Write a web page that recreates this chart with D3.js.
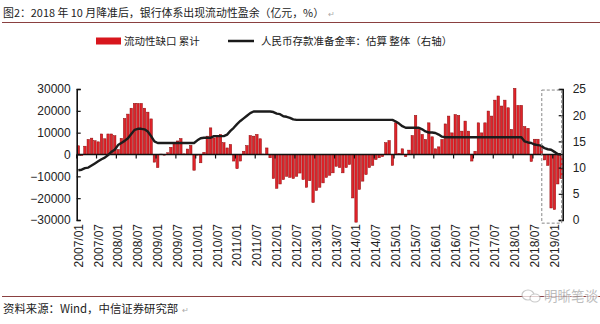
<!DOCTYPE html>
<html>
<head>
<meta charset="utf-8">
<script src="https://cdn.jsdelivr.net/npm/d3@7"></script>
<style>
  html, body { margin: 0; padding: 0; background: #fff; }
  svg { display: block; }
  text { font-family: "Liberation Sans", Arial, "Noto Sans CJK SC", sans-serif; }
  .cjk { font-family: "Noto Sans CJK SC", "Liberation Sans", sans-serif; }
</style>
</head>
<body>
<svg id="chart" width="600" height="324"></svg>
<script>
// Monthly liquidity gap (cumulative, 100m yuan), 2007/01 – 2019/03
const gapValues = [
  4000, -500, 3800, 6900, 7500, 6300, 5800, 9400, 7200, 9400, 9400, 8600,          // 2007
  2300, 7400, 16500, 18500, 21200, 23400, 23400, 23400, 21200, 19400, 16300, -3500, // 2008
  -6000, 200, -300, 800, 3300, 5000, 6200, 7300, 300, 2500, 4200, -7200,           // 2009
  -300, -3800, 1000, 8400, 12200, 7600, 8700, 9200, 5400, 3000, 4600, -3000,       // 2010
  -6500, -3000, 1500, 4100, 8700, 8400, 9200, 7200, 200, 3000, -1500, -11000,      // 2011
  -15500, -13500, -11500, -10000, -10500, -11000, -10000, -8500, -11500, -15000, -12000, -22000, // 2012
  -16500, -15000, -13000, -10500, -9500, -8400, -5400, -6000, -8400, -6000, -4600, -19900,      // 2013
  -31000, -16000, -12200, -9200, -6000, -5000, -2300, -1500, -1000, 5400, 6400, -5000,          // 2014
  14500, 500, 2600, -1000, 2000, 8700, 17900, 12200, 9200, 6900, 14500, 8100,      // 2015
  2600, 3500, 6900, 14000, 17600, 9900, 18300, 17900, 10700, 15300, 10700, -3000,  // 2016
  1500, 14500, 9900, 14500, 19900, 17600, 24900, 26800, 22200, 24900, 21400, 11500, // 2017
  30300, 22500, 22500, 12800, 12000, -3200, 7000, 7000, 4000, -2500, -5000, -24500, // 2018
  -25200, -13500, -11000                                                           // 2019
];

// RMB deposit reserve requirement ratio, estimated overall (%), right axis
const rrrValues = [
  9.5, 9.6, 9.9, 10.0, 10.4, 10.8, 11.2, 11.6, 11.9, 12.4, 13.0, 13.4,
  14.3, 14.7, 15.1, 15.6, 16.4, 17.2, 17.4, 17.4, 17.3, 16.9, 16.0, 15.0,
  14.7, 14.7, 14.7, 14.7, 14.7, 14.7, 14.7, 14.7, 14.7, 14.7, 14.7, 14.7,
  15.2, 15.6, 15.7, 15.7, 15.7, 16.0, 16.0, 16.0, 16.0, 16.3, 17.0, 17.6,
  18.3, 18.9, 19.4, 19.9, 20.4, 20.7, 20.7, 20.7, 20.7, 20.7, 20.7, 20.6,
  20.3, 20.2, 19.8, 19.7, 19.5, 19.2, 19.1, 19.1, 19.1, 19.1, 19.1, 19.1,
  19.1, 19.1, 19.1, 19.1, 19.1, 19.1, 19.1, 19.1, 19.1, 19.1, 19.1, 19.1,
  19.1, 19.1, 19.1, 19.1, 19.1, 19.1, 19.1, 19.1, 19.1, 19.1, 19.1, 19.1,
  18.8, 18.4, 17.9, 17.6, 17.6, 17.6, 17.6, 17.6, 17.3, 16.9, 16.7, 16.7,
  16.6, 16.3, 15.9, 15.8, 15.8, 15.8, 15.8, 15.8, 15.8, 15.8, 15.8, 15.8,
  15.8, 15.8, 15.8, 15.8, 15.8, 15.8, 15.8, 15.8, 15.8, 15.8, 15.8, 15.8,
  15.8, 15.8, 15.8, 15.0, 14.8, 14.7, 14.4, 14.3, 14.2, 13.7, 13.5, 13.4,
  13.0, 12.6, 12.5
];

// Month categories
const startYear = 2007;
const months = gapValues.map((_, i) => {
  const y = startYear + Math.floor(i / 12);
  const m = (i % 12) + 1;
  return y + "/" + String(m).padStart(2, "0");
});

const leftTicks = [30000, 20000, 10000, 0, -10000, -20000, -30000];
const rightTicks = [0, 5, 10, 15, 20, 25];
const xTickLabels = months.filter((_, i) => i % 6 === 0);

const titleText = "图2：2018 年 10 月降准后，银行体系出现流动性盈余（亿元，%）";
const sourceText = "资料来源：Wind，中信证券研究部";
const legendBar = "流动性缺口 累计";
const legendLine = "人民币存款准备金率：估算 整体（右轴）";

const svg = d3.select("#chart");

const plot = { left: 76.7, right: 562.7, top: 89, bottom: 220 };

const x = d3.scaleBand().domain(months).range([plot.left, plot.right]).paddingInner(0.26).paddingOuter(0.13);
const xStep = x.step();
const yL = d3.scaleLinear().domain([-30000, 30000]).range([plot.bottom, plot.top]);
const yR = d3.scaleLinear().domain([0, 25]).range([plot.bottom, plot.top]);

// Title and rules
const title = svg.append("text").attr("class", "cjk").attr("x", 3).attr("y", 16.5)
  .attr("font-size", 10.9).attr("fill", "#222").text(titleText);
const titleEnd = 3 + title.node().getComputedTextLength();
svg.append("text").attr("x", titleEnd + 4).attr("y", 16.5).attr("font-size", 8).attr("fill", "#aaa").text("↵");
svg.append("line").attr("x1", 2).attr("x2", 600).attr("y1", 22.5).attr("y2", 22.5)
  .attr("stroke", "#8a4040").attr("stroke-width", 1);

// Legend
const legY = 41;
svg.append("rect").attr("x", 96).attr("y", legY - 3.5).attr("width", 25).attr("height", 7)
  .attr("fill", "#d8161d");
svg.append("text").attr("class", "cjk").attr("x", 124).attr("y", legY + 4)
  .attr("font-size", 10.5).attr("fill", "#222").text(legendBar);
svg.append("line").attr("x1", 228).attr("x2", 254).attr("y1", legY).attr("y2", legY)
  .attr("stroke", "#1a1a1a").attr("stroke-width", 2.5);
svg.append("text").attr("class", "cjk").attr("x", 261).attr("y", legY + 4)
  .attr("font-size", 10.5).attr("fill", "#222").text(legendLine);

// Bars
svg.append("g").selectAll("rect").data(gapValues).join("rect")
  .attr("x", (d, i) => x(months[i]))
  .attr("width", x.bandwidth())
  .attr("y", d => yL(Math.max(0, d)))
  .attr("height", d => Math.abs(yL(d) - yL(0)))
  .attr("fill", "#e0232a")
  .attr("stroke", "#8c0a0a")
  .attr("stroke-width", 0.5);

// Category axis along zero
const axisX = svg.append("g").attr("transform", `translate(0,${yL(0)})`);
axisX.append("line").attr("x1", plot.left).attr("x2", plot.right)
  .attr("stroke", "#111").attr("stroke-width", 1.6);
axisX.selectAll(".tk").data(months.filter((_, i) => i % 6 === 0)).join("line")
  .attr("x1", d => x(d) - (xStep - x.bandwidth()) / 2)
  .attr("x2", d => x(d) - (xStep - x.bandwidth()) / 2)
  .attr("y1", 0).attr("y2", 4)
  .attr("stroke", "#111").attr("stroke-width", 1.2);

// Rotated month labels
svg.append("g").selectAll("text").data(xTickLabels).join("text")
  .attr("transform", d => `translate(${x(d) + x.bandwidth() / 2},224) rotate(-90)`)
  .attr("text-anchor", "end").attr("dy", "0.36em")
  .attr("font-size", 12).attr("fill", "#222").text(d => d);

// Left axis
const gL = svg.append("g").attr("transform", `translate(${plot.left},0)`)
  .call(d3.axisLeft(yL).tickValues(leftTicks).tickFormat(d3.format("d")).tickSizeInner(-4).tickSizeOuter(-4).tickPadding(6));
gL.select(".domain").attr("stroke", "#111").attr("stroke-width", 1.6);
gL.selectAll(".tick line").attr("stroke", "#111").attr("stroke-width", 1.2);
gL.selectAll("text").attr("font-size", 12).attr("fill", "#222")
  .attr("font-family", "'Liberation Sans', Arial, sans-serif");

// Right axis
const gR = svg.append("g").attr("transform", `translate(${plot.right},0)`)
  .call(d3.axisRight(yR).tickValues(rightTicks).tickSizeInner(-4).tickSizeOuter(-4).tickPadding(10));
gR.select(".domain").attr("stroke", "#111").attr("stroke-width", 1.6);
gR.selectAll(".tick line").attr("stroke", "#111").attr("stroke-width", 1.2);
gR.selectAll("text").attr("font-size", 12).attr("fill", "#222")
  .attr("font-family", "'Liberation Sans', Arial, sans-serif");

// Reserve ratio line
const line = d3.line()
  .x((d, i) => x(months[i]) + x.bandwidth() / 2)
  .y(d => yR(d));
svg.append("path").datum(rrrValues).attr("d", line)
  .attr("fill", "none").attr("stroke", "#1c1c1c").attr("stroke-width", 2.4)
  .attr("stroke-linejoin", "round");

// Highlight box around the latest months
const boxStart = months.indexOf("2018/10");
svg.append("rect")
  .attr("x", x(months[boxStart]) - 1.5)
  .attr("y", yR(24.8))
  .attr("width", plot.right - 1 - (x(months[boxStart]) - 1.5))
  .attr("height", yR(-0.6) - yR(24.8))
  .attr("fill", "none").attr("stroke", "#888").attr("stroke-width", 1)
  .attr("stroke-dasharray", "3,2");

// Footer
svg.append("line").attr("x1", 2).attr("x2", 600).attr("y1", 296.5).attr("y2", 296.5)
  .attr("stroke", "#8a4040").attr("stroke-width", 1);
const source = svg.append("text").attr("class", "cjk").attr("x", 3).attr("y", 313)
  .attr("font-size", 11.4).attr("fill", "#222").text(sourceText);
const sourceEnd = 3 + source.node().getComputedTextLength();
svg.append("text").attr("x", sourceEnd + 4).attr("y", 313).attr("font-size", 8).attr("fill", "#aaa").text("↵");

// Watermark
const wm = svg.append("g").attr("opacity", 0.75);
wm.append("ellipse").attr("cx", 528).attr("cy", 295).attr("rx", 6).attr("ry", 5)
  .attr("fill", "#fff").attr("stroke", "#b8b8b8").attr("stroke-width", 1.2);
wm.append("ellipse").attr("cx", 535).attr("cy", 298).attr("rx", 5).attr("ry", 4)
  .attr("fill", "#fff").attr("stroke", "#b8b8b8").attr("stroke-width", 1.2);
wm.append("text").attr("class", "cjk").attr("x", 544).attr("y", 301)
  .attr("font-size", 13.5).attr("fill", "#a8a8a8")
  .attr("stroke", "#fff").attr("stroke-width", 2).attr("paint-order", "stroke")
  .text("明晰笔谈");
</script>
</body>
</html>
